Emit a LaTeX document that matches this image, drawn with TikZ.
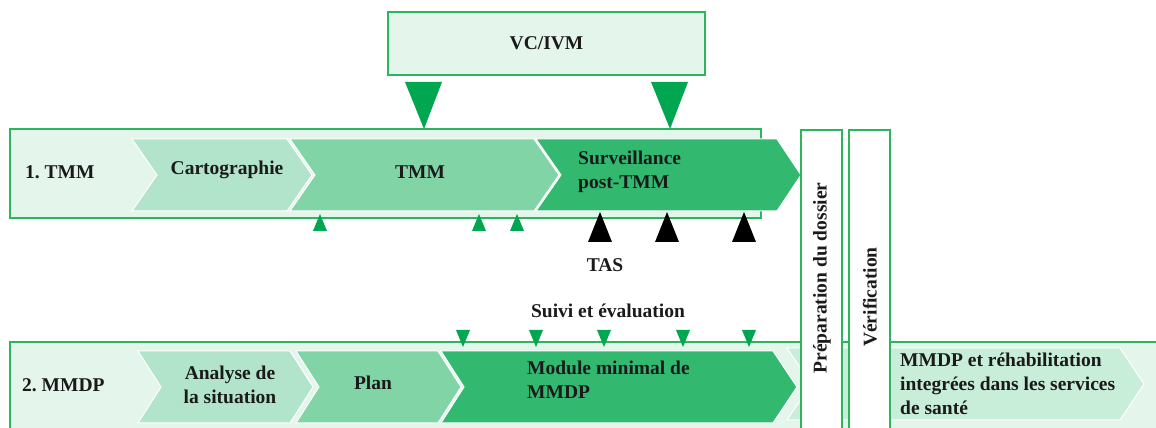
\documentclass[tikz,border=0pt]{standalone}
\usepackage{fontspec}
\setmainfont{Liberation Serif}
\usetikzlibrary{positioning}
\definecolor{lcborder}{HTML}{2DB55D}
\definecolor{lcbg}{HTML}{E4F5EC}
\definecolor{lcpale}{HTML}{B2E4CB}
\definecolor{lcmid}{HTML}{80D4A6}
\definecolor{lcdeep}{HTML}{33B870}
\definecolor{lclast}{HTML}{C8EDD8}
\definecolor{lctri}{HTML}{00A650}
\definecolor{lctext}{HTML}{1A1A1A}
\frenchspacing

\tikzset{
  rowbox/.style={draw=lcborder, line width=1.4pt, fill=lcbg, rectangle},
  stagebox/.style={draw=lcborder, line width=1.4pt, fill=white, rectangle},
  chev/.style={draw=white, line width=1pt},
  txt/.style={inner sep=0pt, text=lctext}
}

\begin{document}
\begin{tikzpicture}[x=1pt, y=1pt, font=\fontsize{19.5}{24}\selectfont\bfseries]
  \useasboundingbox (0,0) rectangle (1156,428);

  % VC/IVM box
  \node[rowbox, minimum width=317pt, minimum height=63pt]
    (vcivm) at (546.5, 384.5) {};
  \node[txt] (vcivmlbl) at (vcivm.center) {VC/IVM};

  % TMM row
  \node[rowbox, minimum width=751pt, minimum height=89pt]
    (tmmrow) at (385.5, 254.5) {};

  % MMDP row (runs off the page)
  \node[rowbox, minimum width=1160pt, minimum height=110pt]
    (mmdprow) at (590, 31) {};

  % TMM stages
  \filldraw[chev, fill=lcpale] (132,289) -- (287,289) -- (312,253) -- (287,217) -- (132,217) -- (157,253) -- cycle;
  \filldraw[chev, fill=lcmid] (290,289) -- (534,289) -- (559,253) -- (534,217) -- (290,217) -- (315,253) -- cycle;
  \filldraw[chev, fill=lcdeep] (536,289) -- (777,289) -- (801,253) -- (777,217) -- (536,217) -- (561,253) -- cycle;

  % MMDP stages
  \filldraw[chev, fill=lcpale] (138,77) -- (290,77) -- (313,41) -- (290,5) -- (138,5) -- (161,41) -- cycle;
  \filldraw[chev, fill=lcmid] (296,77) -- (438,77) -- (461,41) -- (438,5) -- (296,5) -- (319,41) -- cycle;
  \filldraw[chev, fill=lcdeep] (441,77) -- (773,77) -- (797,41) -- (773,5) -- (441,5) -- (464,41) -- cycle;
  \filldraw[chev, fill=lclast] (787,80) -- (1120,80) -- (1144,44) -- (1120,8) -- (787,8) -- (811,44) -- cycle;

  % Dossier and verification columns
  \node[stagebox, minimum width=41pt, minimum height=320pt]
    (prep) at (821.5, 138) {};
  \node[stagebox, minimum width=41pt, minimum height=320pt]
    (verif) at (869.5, 138) {};

  % Triangles from VC/IVM
  \fill[lctri] (405,346) -- (442,346) -- (424,299) -- cycle;
  \fill[lctri] (651,346) -- (688,346) -- (670,299) -- cycle;

  % small markers under TMM
  \foreach \x in {320,479,517}
    \fill[lctri] (\x-7,197) -- (\x+7,197) -- (\x,214) -- cycle;

  % TAS markers
  \foreach \x in {600,667,744}
    \fill[black] (\x-12,186) -- (\x+12,186) -- (\x,216) -- cycle;

  % follow-up markers
  \foreach \x in {463,536,604,683,749}
    \fill[lctri] (\x-7,98) -- (\x+7,98) -- (\x,81) -- cycle;

  % Labels
  \node[txt, anchor=west] (tmmlbl) at (25,256) {1. TMM};
  \node[txt] (cartolbl) at (227,258) {Cartographie};
  \node[txt] (tmmstage) at (420,256) {TMM};
  \node[txt, anchor=west, align=left] (survlbl) at (578,256) {Surveillance\\post-TMM};
  \node[txt] (taslbl) at (605,163) {TAS};
  \node[txt] (suivilbl) at (608,117) {Suivi et évaluation};

  \node[txt, anchor=west] (mmdplbl) at (22,43) {2. MMDP};
  \node[txt, align=center] (analyselbl) at (230,43) {Analyse de\\la situation};
  \node[txt] (planlbl) at (373,45) {Plan};
  \node[txt, anchor=west, align=left] (modulelbl) at (527,48) {Module minimal de\\MMDP};
  \node[txt, anchor=west, align=left] (lastlbl) at (900,44)
    {MMDP et réhabilitation\\integrées dans les services\\de santé};

  \node[txt, rotate=90] (preplbl) at (822,150) {Préparation du dossier};
  \node[txt, rotate=90] (veriflbl) at (870,131) {Vérification};
\end{tikzpicture}
\end{document}
